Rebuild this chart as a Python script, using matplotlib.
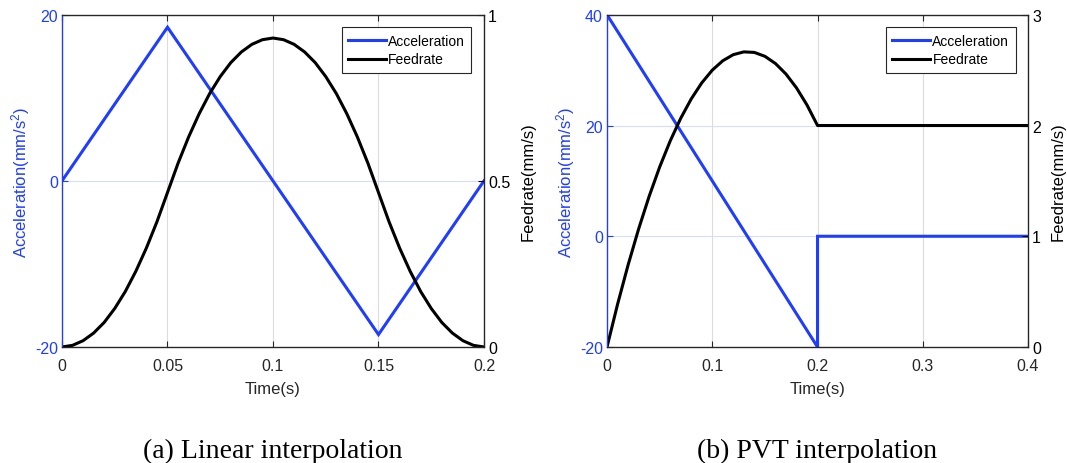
import matplotlib
matplotlib.use("Agg")
import matplotlib.pyplot as plt
from matplotlib.lines import Line2D

plt.rcParams['font.family'] = ['Liberation Sans', 'DejaVu Sans']
plt.rcParams['mathtext.fontset'] = 'custom'
plt.rcParams['mathtext.rm'] = 'Liberation Sans'
plt.rcParams['mathtext.it'] = 'Liberation Sans'

# ---------------- data ----------------
# (a) Linear interpolation
a_time_acc = [0.0, 0.05, 0.15, 0.2]
a_acc = [0.0, 18.5, -18.5, 0.0]
a_time_feed = [0.000, 0.005, 0.010, 0.015, 0.020, 0.025, 0.030, 0.035, 0.040, 0.045,
               0.050, 0.055, 0.060, 0.065, 0.070, 0.075, 0.080, 0.085, 0.090, 0.095,
               0.100, 0.105, 0.110, 0.115, 0.120, 0.125, 0.130, 0.135, 0.140, 0.145,
               0.150, 0.155, 0.160, 0.165, 0.170, 0.175, 0.180, 0.185, 0.190, 0.195, 0.200]
a_feed = [0.000, 0.005, 0.019, 0.042, 0.074, 0.116, 0.167, 0.228, 0.298, 0.377,
          0.465, 0.553, 0.632, 0.702, 0.763, 0.814, 0.856, 0.888, 0.911, 0.925,
          0.930, 0.925, 0.911, 0.888, 0.856, 0.814, 0.763, 0.702, 0.632, 0.553,
          0.465, 0.377, 0.298, 0.228, 0.167, 0.116, 0.074, 0.042, 0.019, 0.005, 0.000]

# (b) PVT interpolation
b_time_acc = [0.0, 0.2, 0.2, 0.4]
b_acc = [40.0, -20.0, 0.0, 0.0]
b_time_feed = [0.00, 0.01, 0.02, 0.03, 0.04, 0.05, 0.06, 0.07, 0.08, 0.09, 0.10,
               0.11, 0.12, 0.13, 0.14, 0.15, 0.16, 0.17, 0.18, 0.19, 0.20, 0.40]
b_feed = [0.000, 0.385, 0.740, 1.065, 1.360, 1.625, 1.860, 2.065, 2.240, 2.385, 2.500,
          2.585, 2.640, 2.665, 2.660, 2.625, 2.560, 2.465, 2.340, 2.185, 2.000, 2.000]

a_xticks = [0, 0.05, 0.1, 0.15, 0.2]
a_xticklabels = ['0', '0.05', '0.1', '0.15', '0.2']
a_yticks_left = [-20, 0, 20]
a_yticks_right = [0, 0.5, 1]
a_yticklabels_right = ['0', '0.5', '1']

b_xticks = [0, 0.1, 0.2, 0.3, 0.4]
b_xticklabels = ['0', '0.1', '0.2', '0.3', '0.4']
b_yticks_left = [-20, 0, 20, 40]
b_yticks_right = [0, 1, 2, 3]

captions = ['(a) Linear interpolation', '(b) PVT interpolation']

# ---------------- styling ----------------
BLUE = '#1f3dff'
DARK = '#262626'
FS_TICK = 11.5
FS_LAB = 12
FS_LEG = 10

fig = plt.figure(figsize=(10.67, 4.64), dpi=100)

def make_panel(rect, t_acc, acc, t_feed, feed, xlim, xticks, xticklabels,
               ylim_l, yticks_l, ylim_r, yticks_r, yticklabels_r, caption):
    ax = fig.add_axes(rect)
    ax2 = ax.twinx()
    ax.plot(t_acc, acc, color=BLUE, lw=2.2, solid_joinstyle='miter')
    ax2.plot(t_feed, feed, color='black', lw=2.2)
    ax.set_xlim(*xlim)
    ax.set_ylim(*ylim_l)
    ax2.set_ylim(*ylim_r)
    ax.set_xticks(xticks)
    ax.set_xticklabels(xticklabels)
    ax.set_yticks(yticks_l)
    ax.set_yticklabels([str(v) for v in yticks_l])
    ax2.set_yticks(yticks_r)
    ax2.set_yticklabels(yticklabels_r)

    ax.xaxis.grid(True, color='#dcdcdc', lw=0.8)
    ax.yaxis.grid(True, color='#d6dcff', lw=0.8)
    ax.set_axisbelow(True)

    ax.tick_params(axis='x', direction='in', top=True, length=4, width=0.8,
                   colors=DARK, labelsize=FS_TICK, pad=8)
    ax.tick_params(axis='y', direction='in', length=4, width=0.8,
                   colors=BLUE, labelsize=FS_TICK, pad=3)
    ax2.tick_params(axis='y', direction='in', length=4, width=0.8,
                    colors='black', labelsize=FS_TICK, pad=3)

    for sp in ['top', 'bottom']:
        ax2.spines[sp].set_color(DARK)
        ax2.spines[sp].set_linewidth(0.9)
    ax2.spines['left'].set_color(BLUE)
    ax2.spines['left'].set_linewidth(0.9)
    ax2.spines['right'].set_color(DARK)
    ax2.spines['right'].set_linewidth(0.9)

    ax.set_xlabel('Time(s)', fontsize=FS_LAB, color=DARK, labelpad=6)
    ax.set_ylabel('Acceleration(mm/s$^2$)', fontsize=FS_LAB, color=BLUE, labelpad=2)
    ax2.set_ylabel('Feedrate(mm/s)', fontsize=FS_LAB, color='black', labelpad=7)

    handles = [Line2D([], [], color=BLUE, lw=2.2), Line2D([], [], color='black', lw=2.2)]
    leg = ax2.legend(handles, ['Acceleration', 'Feedrate'], loc='upper right',
                     fontsize=FS_LEG, fancybox=False, framealpha=1, edgecolor=DARK,
                     handlelength=2.7, handletextpad=0.2, borderpad=0.45,
                     labelspacing=0.35, borderaxespad=0.9)
    leg.get_frame().set_linewidth(0.8)

    cx = rect[0] + rect[2] / 2
    fig.text(cx, 0.028, caption, ha='center', va='center', fontsize=20,
             family=['Liberation Serif', 'DejaVu Serif'])
    return ax, ax2

make_panel([0.0581, 0.25, 0.3955, 0.716], a_time_acc, a_acc, a_time_feed, a_feed,
           (0, 0.2), a_xticks, a_xticklabels, (-20, 20), a_yticks_left,
           (0, 1), a_yticks_right, a_yticklabels_right, captions[0])
make_panel([0.5689, 0.25, 0.3946, 0.716], b_time_acc, b_acc, b_time_feed, b_feed,
           (0, 0.4), b_xticks, b_xticklabels, (-20, 40), b_yticks_left,
           (0, 3), b_yticks_right, [str(v) for v in b_yticks_right], captions[1])

fig.savefig('out.png', dpi=100)
